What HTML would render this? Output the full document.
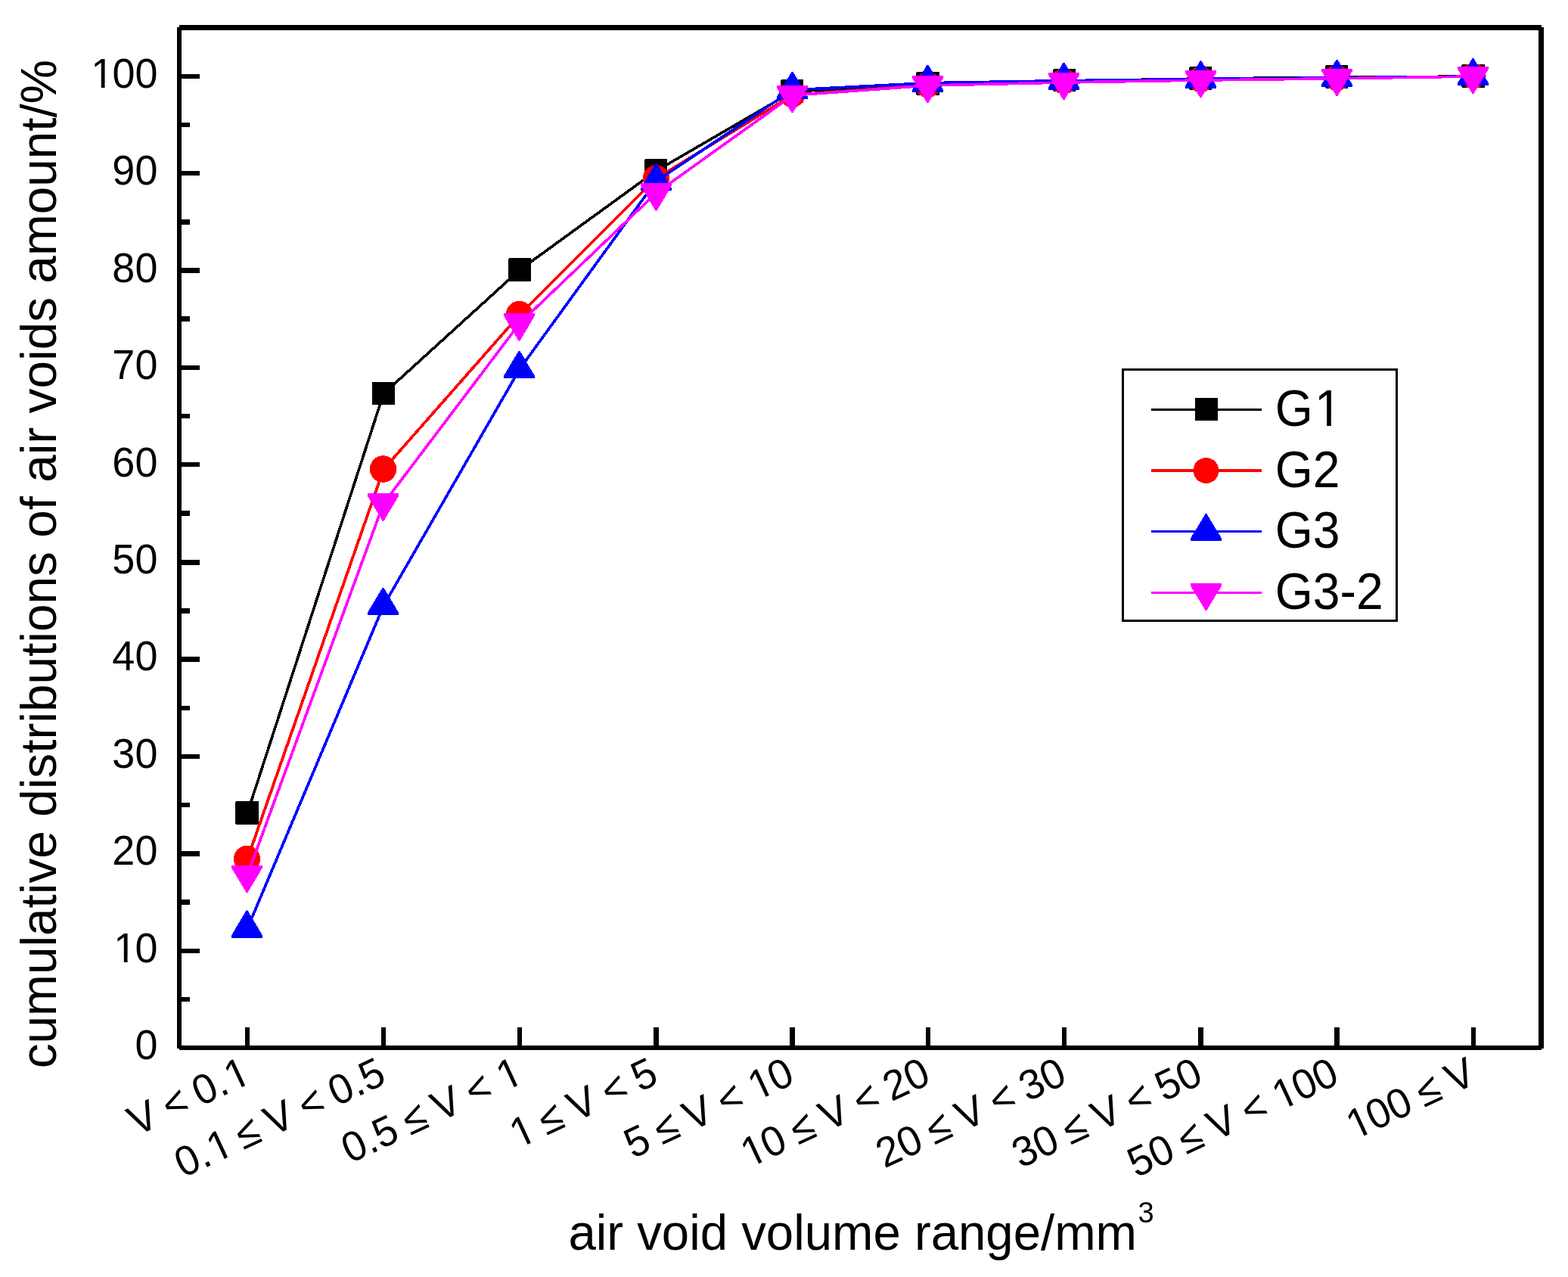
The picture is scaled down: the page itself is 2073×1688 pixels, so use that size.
<!DOCTYPE html>
<html lang="en"><head><meta charset="utf-8">
<title>Cumulative distributions of air voids amount</title>
<style>
html,body{margin:0;padding:0;background:#fff;}
body{width:2073px;height:1688px;overflow:hidden;}
svg{display:block;}
text{font-family:"Liberation Sans", sans-serif;fill:#000;white-space:pre;}
.tk{font-size:55.6px;}
#xlabels text{word-spacing:-2.1px;}
.ti{font-size:66px;}
.lg{font-size:69px;}
</style></head><body>
<svg width="2073" height="1688" viewBox="0 0 2073 1688">
<rect x="0" y="0" width="2073" height="1688" fill="#ffffff"/>
<g id="series" shape-rendering="crispEdges">
<g>
<polyline points="327,1075 507,520.5 687,356.9 867,226.2 1048,121.1 1227,111.1 1407,107 1588,104 1768,102.2 1948,101" fill="none" stroke="#000000" stroke-width="3.6" stroke-linejoin="round"/>
<polygon points="312,1059 341,1059 342,1060 342,1089 341,1090 312,1090 311,1089 311,1060" fill="#000000"/>
<rect x="492" y="505" width="30" height="30" fill="#000000"/>
<polygon points="673,341 701,341 702,342 702,371 701,372 673,372 672,371 672,342" fill="#000000"/>
<polygon points="853,210 881,210 882,211 882,240 881,241 853,241 852,240 852,211" fill="#000000"/>
<polygon points="1033,105 1061,105 1062,106 1062,135 1061,136 1033,136 1032,135 1032,106" fill="#000000"/>
<polygon points="1212,95 1241,95 1242,96 1242,125 1241,126 1212,126 1211,125 1211,96" fill="#000000"/>
<polygon points="1393,91 1421,91 1422,92 1422,120 1421,121 1393,121 1392,120 1392,92" fill="#000000"/>
<polygon points="1573,88 1601,88 1602,89 1602,118 1601,119 1573,119 1572,118 1572,89" fill="#000000"/>
<polygon points="1753,86 1781,86 1782,87 1782,116 1781,117 1753,117 1752,116 1752,87" fill="#000000"/>
<polygon points="1933,85 1962,85 1963,86 1963,115 1962,116 1933,116 1932,115 1932,86" fill="#000000"/>
</g>
<g>
<polyline points="327,1135.9 507,620.5 687,416.1 867,236.3 1048,125.5 1227,112.5 1407,108 1588,105.5 1768,103.5 1948,101" fill="none" stroke="#ff0000" stroke-width="3.8" stroke-linejoin="round"/>
<circle cx="326.5" cy="1135.4" r="17.7" fill="#ff0000"/>
<circle cx="506.5" cy="620" r="17.7" fill="#ff0000"/>
<circle cx="686.5" cy="415.6" r="17.7" fill="#ff0000"/>
<circle cx="867.5" cy="235.8" r="17.7" fill="#ff0000"/>
<circle cx="1047.5" cy="125" r="17.1" fill="#ff0000"/>
<circle cx="1226.5" cy="112" r="17.1" fill="#ff0000"/>
<circle cx="1406.5" cy="107.5" r="17.1" fill="#ff0000"/>
<circle cx="1587.5" cy="105" r="17.1" fill="#ff0000"/>
<circle cx="1767.5" cy="103" r="17.1" fill="#ff0000"/>
<circle cx="1947.5" cy="100.5" r="17.1" fill="#ff0000"/>
</g>
<g>
<polyline points="327,1227.5 507,800.8 687,487.9 867,239.8 1048,118.9 1227,109.7 1407,106.7 1588,104.5 1768,102.9 1948,101" fill="none" stroke="#0000ff" stroke-width="3.7" stroke-linejoin="round"/>
<polygon points="325.7,1203.3 327.3,1203.3 347,1236.4 347,1239.8 306,1239.8 306,1236.4" fill="#0000ff"/>
<polygon points="505.7,776.6 507.3,776.6 527,809.7 527,813.1 486,813.1 486,809.7" fill="#0000ff"/>
<polygon points="685.7,463.7 687.3,463.7 707,496.8 707,500.2 666,500.2 666,496.8" fill="#0000ff"/>
<polygon points="866.7,215.6 868.3,215.6 888,248.7 888,252.1 847,252.1 847,248.7" fill="#0000ff"/>
<polygon points="1046.7,94.7 1048.3,94.7 1068,127.8 1068,131.2 1027,131.2 1027,127.8" fill="#0000ff"/>
<polygon points="1225.7,85.5 1227.3,85.5 1247,118.6 1247,122 1206,122 1206,118.6" fill="#0000ff"/>
<polygon points="1405.7,82.5 1407.3,82.5 1427,115.6 1427,119 1386,119 1386,115.6" fill="#0000ff"/>
<polygon points="1586.7,80.3 1588.3,80.3 1608,113.4 1608,116.8 1567,116.8 1567,113.4" fill="#0000ff"/>
<polygon points="1766.7,78.7 1768.3,78.7 1788,111.8 1788,115.2 1747,115.2 1747,111.8" fill="#0000ff"/>
<polygon points="1946.7,76.8 1948.3,76.8 1968,109.9 1968,113.3 1927,113.3 1927,109.9" fill="#0000ff"/>
</g>
<g>
<polyline points="327,1156.9 507,665.6 687,427.5 867,255.5 1048,126 1227,113 1407,109 1588,106 1768,103.8 1948,101" fill="none" stroke="#ff00ff" stroke-width="3.7" stroke-linejoin="round"/>
<polygon points="306,1143.6 347,1143.6 347,1147 327.3,1180.1 325.7,1180.1 306,1147" fill="#ff00ff"/>
<polygon points="486,652.3 527,652.3 527,655.7 507.3,688.8 505.7,688.8 486,655.7" fill="#ff00ff"/>
<polygon points="666,414.2 707,414.2 707,417.6 687.3,450.7 685.7,450.7 666,417.6" fill="#ff00ff"/>
<polygon points="847,242.2 888,242.2 888,245.6 868.3,278.7 866.7,278.7 847,245.6" fill="#ff00ff"/>
<polygon points="1027,112.7 1068,112.7 1068,116.1 1048.3,149.2 1046.7,149.2 1027,116.1" fill="#ff00ff"/>
<polygon points="1206,99.7 1247,99.7 1247,103.1 1227.3,136.2 1225.7,136.2 1206,103.1" fill="#ff00ff"/>
<polygon points="1386,95.7 1427,95.7 1427,99.1 1407.3,132.2 1405.7,132.2 1386,99.1" fill="#ff00ff"/>
<polygon points="1567,92.7 1608,92.7 1608,96.1 1588.3,129.2 1586.7,129.2 1567,96.1" fill="#ff00ff"/>
<polygon points="1747,90.5 1788,90.5 1788,93.9 1768.3,127 1766.7,127 1747,93.9" fill="#ff00ff"/>
<polygon points="1927,87.7 1968,87.7 1968,91.1 1948.3,124.2 1946.7,124.2 1927,91.1" fill="#ff00ff"/>
</g>
</g>
<g id="axes" fill="#000" shape-rendering="crispEdges">
<rect x="234" y="36" width="6" height="1350"/>
<rect x="2034" y="36" width="7" height="1350"/>
<rect x="237" y="33" width="1801" height="7"/>
<rect x="237" y="1382" width="1801" height="6"/>
<rect x="240" y="98" width="24" height="6"/>
<rect x="240" y="162" width="11" height="6"/>
<rect x="240" y="226" width="24" height="6"/>
<rect x="240" y="290" width="11" height="7"/>
<rect x="240" y="354" width="24" height="7"/>
<rect x="240" y="418" width="11" height="7"/>
<rect x="240" y="483" width="24" height="6"/>
<rect x="240" y="547" width="11" height="6"/>
<rect x="240" y="611" width="24" height="6"/>
<rect x="240" y="675" width="11" height="7"/>
<rect x="240" y="740" width="24" height="7"/>
<rect x="240" y="804" width="11" height="7"/>
<rect x="240" y="868" width="24" height="7"/>
<rect x="240" y="933" width="11" height="6"/>
<rect x="240" y="997" width="24" height="6"/>
<rect x="240" y="1061" width="11" height="6"/>
<rect x="240" y="1125" width="24" height="7"/>
<rect x="240" y="1189" width="11" height="7"/>
<rect x="240" y="1254" width="24" height="6"/>
<rect x="240" y="1318" width="11" height="6"/>
<rect x="324" y="1358" width="6" height="24"/>
<rect x="504" y="1358" width="6" height="24"/>
<rect x="684" y="1358" width="6" height="24"/>
<rect x="864" y="1358" width="7" height="24"/>
<rect x="1044" y="1358" width="7" height="24"/>
<rect x="1224" y="1358" width="6" height="24"/>
<rect x="1404" y="1358" width="6" height="24"/>
<rect x="1584" y="1358" width="7" height="24"/>
<rect x="1764" y="1358" width="7" height="24"/>
<rect x="1945" y="1358" width="6" height="24"/>
</g>
<g id="ylabels" class="tk">
<g transform="translate(208.4,1400) scale(0.971,1)"><text x="-30.91">0</text></g>
<g transform="translate(208.4,1272) scale(0.971,1)"><text x="-61.83" dx="1.92 -1.92">10</text><rect x="-57.17" y="-5.65" width="11.25" height="7.15" fill="#fff"/><rect x="-41.01" y="-5.65" width="10.81" height="7.15" fill="#fff"/></g>
<g transform="translate(208.4,1143) scale(0.971,1)"><text x="-61.83">20</text></g>
<g transform="translate(208.4,1015) scale(0.971,1)"><text x="-61.83">30</text></g>
<g transform="translate(208.4,886) scale(0.971,1)"><text x="-61.83">40</text></g>
<g transform="translate(208.4,758) scale(0.971,1)"><text x="-61.83">50</text></g>
<g transform="translate(208.4,630) scale(0.971,1)"><text x="-61.83">60</text></g>
<g transform="translate(208.4,501) scale(0.971,1)"><text x="-61.83">70</text></g>
<g transform="translate(208.4,373) scale(0.971,1)"><text x="-61.83">80</text></g>
<g transform="translate(208.4,244) scale(0.971,1)"><text x="-61.83">90</text></g>
<g transform="translate(208.4,116) scale(0.971,1)"><text x="-92.74" dx="1.92 -1.92">100</text><rect x="-88.08" y="-5.65" width="11.25" height="7.15" fill="#fff"/><rect x="-71.92" y="-5.65" width="10.81" height="7.15" fill="#fff"/></g>
</g>
<g id="xlabels" class="tk">
<g transform="translate(333,1431) rotate(-25) scale(0.971,1)"><text x="-173.48" dx="0 0 0 0 0 0 1.92">V &lt; 0.1</text><rect x="-26.25" y="-5.65" width="11.25" height="7.15" fill="#fff"/><rect x="-10.09" y="-5.65" width="10.81" height="7.15" fill="#fff"/></g>
<g transform="translate(513,1431) rotate(-25) scale(0.971,1)"><text x="-307.95" dx="0 0 1.92 -1.92">0.1 ≤ V &lt; 0.5</text><rect x="-256.95" y="-5.65" width="11.25" height="7.15" fill="#fff"/><rect x="-240.79" y="-5.65" width="10.81" height="7.15" fill="#fff"/></g>
<g transform="translate(693,1431) rotate(-25) scale(0.971,1)"><text x="-261.59" dx="0 0 0 0 0 0 0 0 0 0 1.92">0.5 ≤ V &lt; 1</text><rect x="-26.27" y="-5.65" width="11.25" height="7.15" fill="#fff"/><rect x="-10.11" y="-5.65" width="10.81" height="7.15" fill="#fff"/></g>
<g transform="translate(873,1431) rotate(-25) scale(0.971,1)"><text x="-215.24" dx="1.92 -1.92">1 ≤ V &lt; 5</text><rect x="-210.58" y="-5.65" width="11.25" height="7.15" fill="#fff"/><rect x="-194.42" y="-5.65" width="10.81" height="7.15" fill="#fff"/></g>
<g transform="translate(1053,1431) rotate(-25) scale(0.971,1)"><text x="-246.15" dx="0 0 0 0 0 0 0 0 1.92 -1.92">5 ≤ V &lt; 10</text><rect x="-57.18" y="-5.65" width="11.25" height="7.15" fill="#fff"/><rect x="-41.02" y="-5.65" width="10.81" height="7.15" fill="#fff"/></g>
<g transform="translate(1233,1431) rotate(-25) scale(0.971,1)"><text x="-277.07" dx="1.92 -1.92">10 ≤ V &lt; 20</text><rect x="-272.41" y="-5.65" width="11.25" height="7.15" fill="#fff"/><rect x="-256.25" y="-5.65" width="10.81" height="7.15" fill="#fff"/></g>
<g transform="translate(1413,1431) rotate(-25) scale(0.971,1)"><text x="-277.07">20 ≤ V &lt; 30</text></g>
<g transform="translate(1593,1431) rotate(-25) scale(0.971,1)"><text x="-277.07">30 ≤ V &lt; 50</text></g>
<g transform="translate(1773,1431) rotate(-25) scale(0.971,1)"><text x="-307.96" dx="0 0 0 0 0 0 0 0 0 1.92 -1.92">50 ≤ V &lt; 100</text><rect x="-88.08" y="-5.65" width="11.25" height="7.15" fill="#fff"/><rect x="-71.92" y="-5.65" width="10.81" height="7.15" fill="#fff"/></g>
<g transform="translate(1954,1431) rotate(-25) scale(0.971,1)"><text x="-187" dx="1.92 -1.92">100 ≤ V</text><rect x="-182.34" y="-5.65" width="11.25" height="7.15" fill="#fff"/><rect x="-166.18" y="-5.65" width="10.81" height="7.15" fill="#fff"/></g>
</g>
<text class="ti" transform="translate(74,745.5) rotate(-90) scale(0.9963,1)" text-anchor="middle">cumulative distributions of air voids amount/%</text>
<text class="ti" transform="translate(751.4,1652) scale(0.9902,1)">air void volume range/mm<tspan dx="1.5" dy="-36" style="font-size:38.5px">3</tspan></text>
<g id="legend" shape-rendering="crispEdges">
<rect x="1484.5" y="488.5" width="362" height="332" fill="#fff" stroke="#000" stroke-width="3"/>
<rect x="1522" y="540" width="146" height="3" fill="#000000"/>
<rect x="1580" y="526" width="30" height="30" fill="#000000"/>
<g transform="translate(1685.8,563) scale(0.932,1)" shape-rendering="auto"><text class="lg" dx="0 2.34">G1</text><rect x="59.75" y="-6.65" width="13.6" height="8.15" fill="#fff"/><rect x="79.44" y="-6.65" width="13.06" height="8.15" fill="#fff"/></g>
<rect x="1522" y="620" width="146" height="4" fill="#ff0000"/>
<circle cx="1594.5" cy="622" r="16.9" fill="#ff0000"/>
<g transform="translate(1685.8,643.7) scale(0.932,1)" shape-rendering="auto"><text class="lg">G2</text></g>
<rect x="1522" y="701" width="146" height="3" fill="#0000ff"/>
<polygon points="1593.7,679 1595.3,679 1615,711.6 1615,715 1574,715 1574,711.6" fill="#0000ff"/>
<g transform="translate(1685.8,724.4) scale(0.932,1)" shape-rendering="auto"><text class="lg">G3</text></g>
<rect x="1522" y="782" width="146" height="3" fill="#ff00ff"/>
<polygon points="1574,771 1615,771 1615,774.4 1595.3,807 1593.7,807 1574,774.4" fill="#ff00ff"/>
<g transform="translate(1685.8,805.1) scale(0.932,1)" shape-rendering="auto"><text class="lg">G3-2</text></g>
</g>
</svg>
</body></html>
